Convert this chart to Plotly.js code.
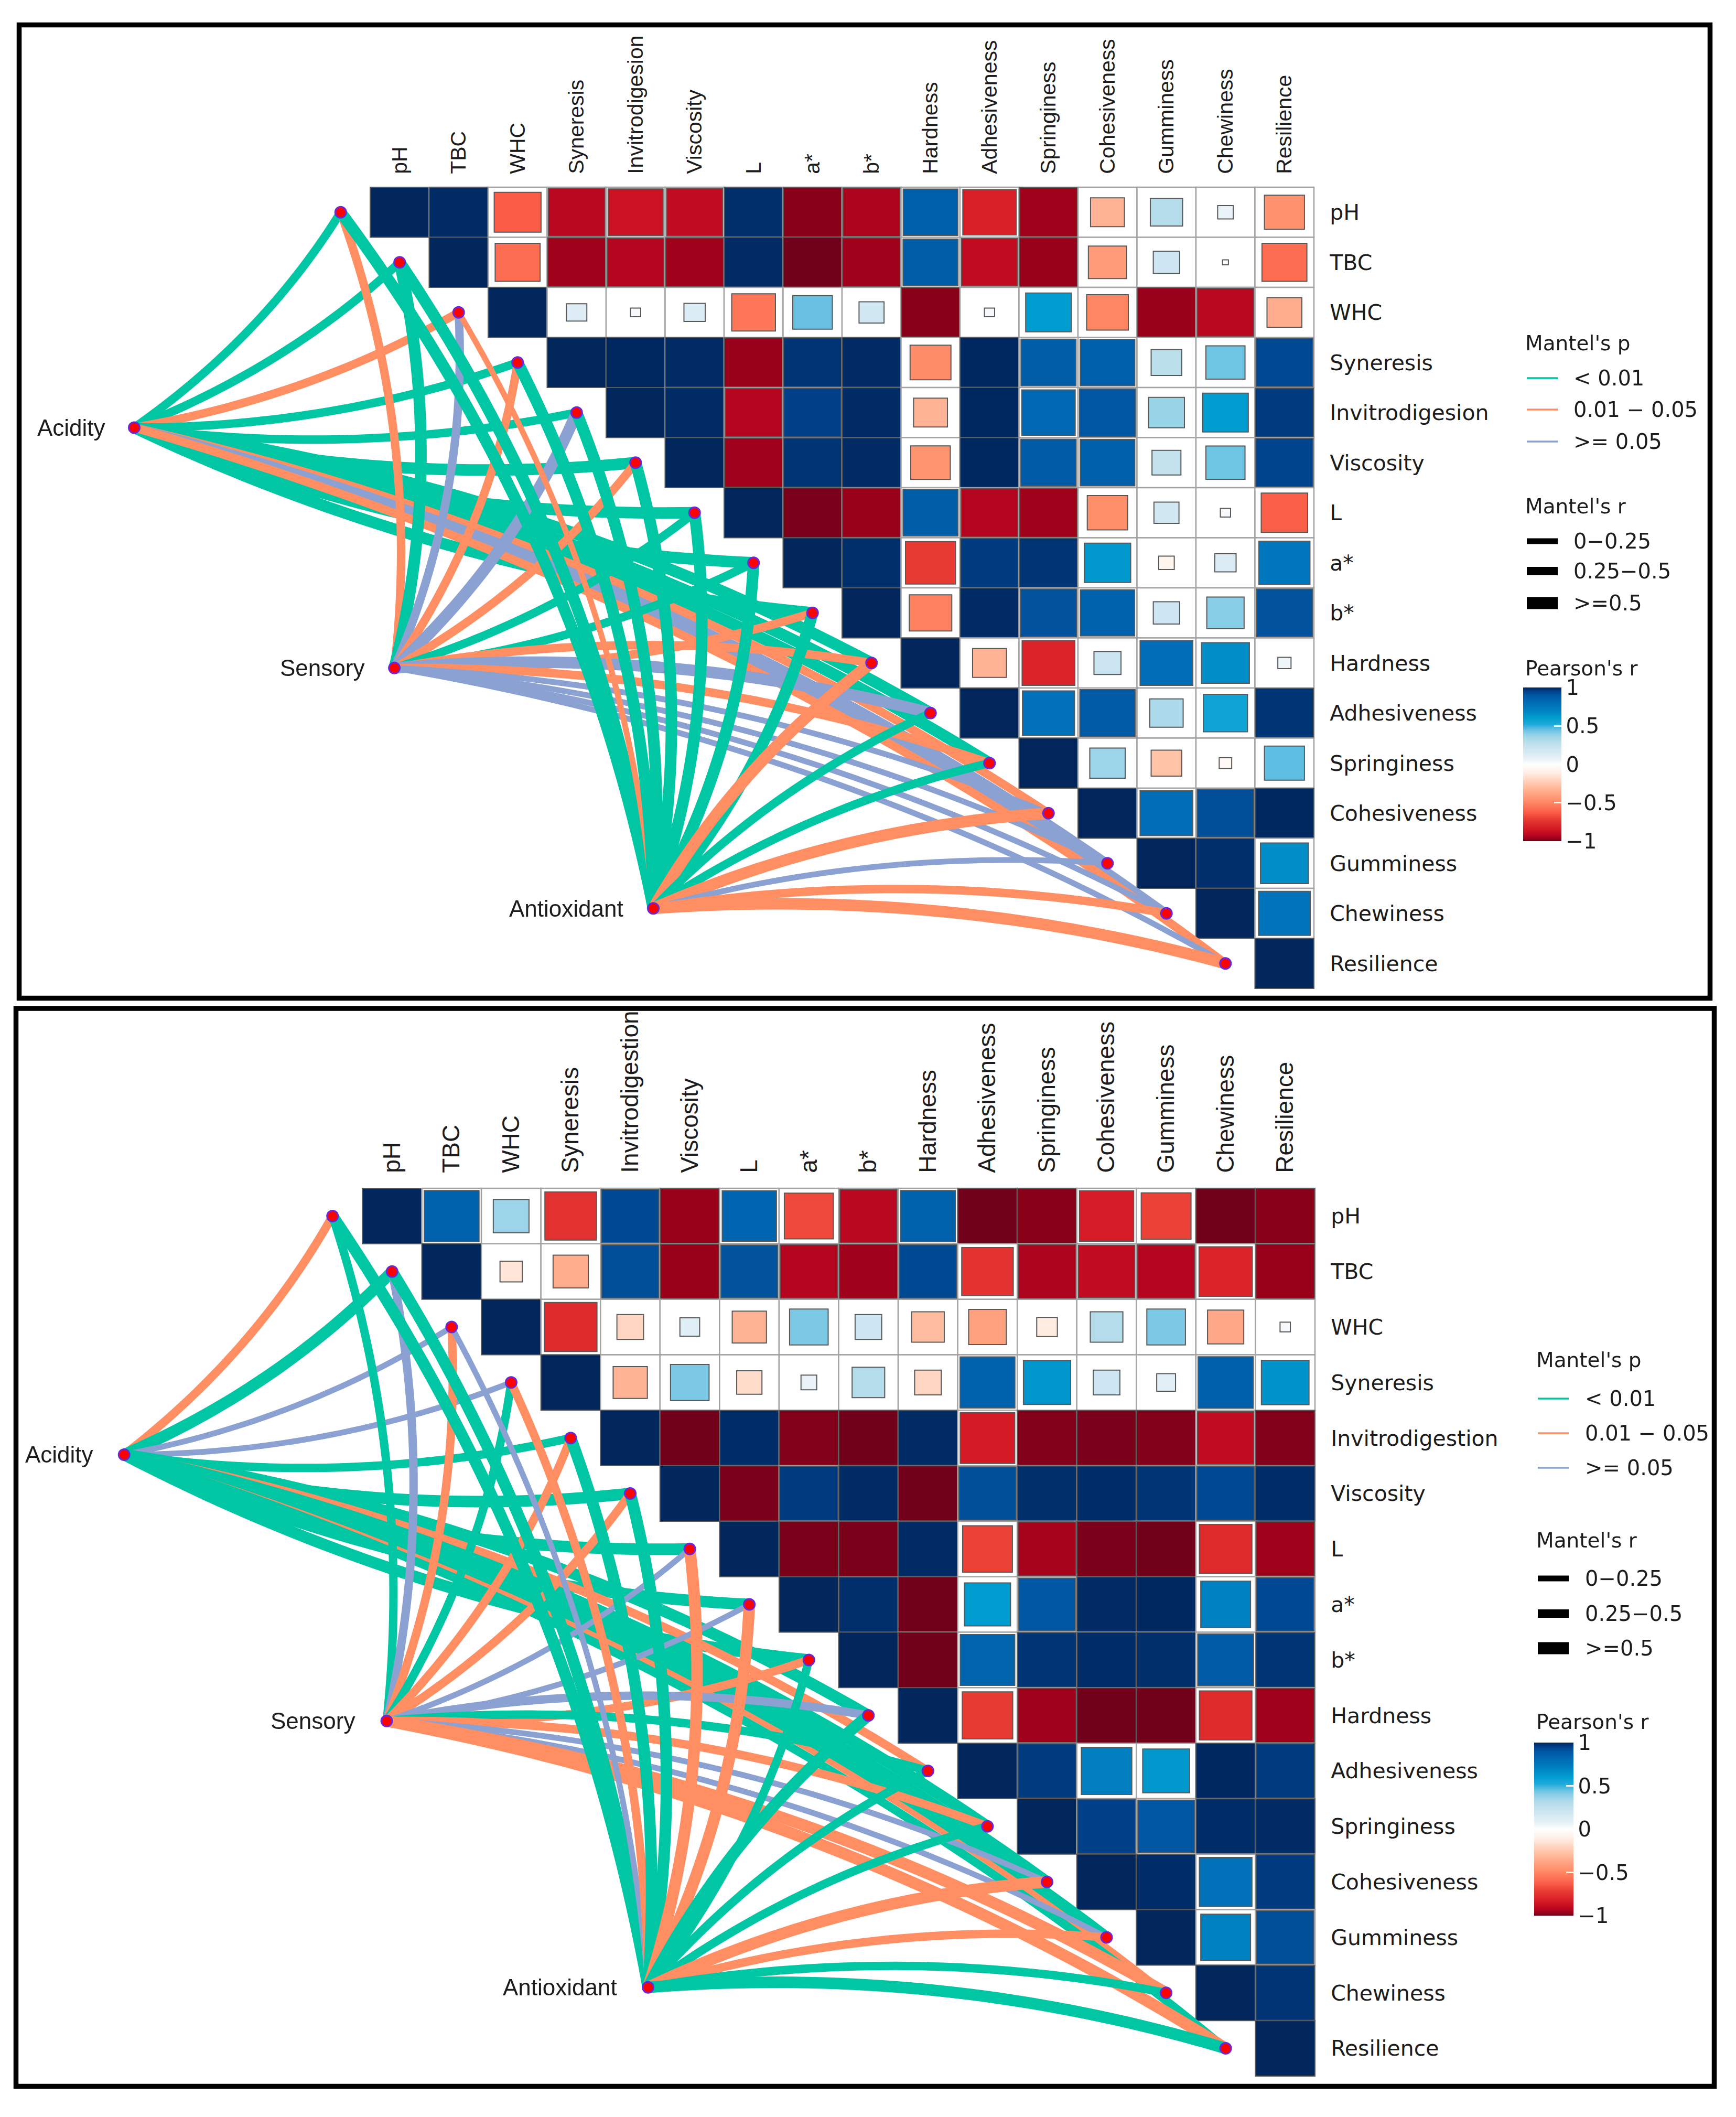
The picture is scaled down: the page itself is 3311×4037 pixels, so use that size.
<!DOCTYPE html>
<html><head><meta charset="utf-8">
<script src="https://cdn.plot.ly/plotly-3.0.1.min.js"></script>
<style>html,body{margin:0;padding:0;background:#fff}</style></head>
<body><div id="chart" style="width:3311px;height:4037px"></div>
<script>
// ---------- DATA ----------
const topLabels1 = ['pH','TBC','WHC','Syneresis','Invitrodigesion','Viscosity','L','a*','b*','Hardness','Adhesiveness','Springiness','Cohesiveness','Gumminess','Chewiness','Resilience'];
const topLabels2 = ['pH','TBC','WHC','Syneresis','Invitrodigestion','Viscosity','L','a*','b*','Hardness','Adhesiveness','Springiness','Cohesiveness','Gumminess','Chewiness','Resilience'];
const sources = ['Acidity','Sensory','Antioxidant'];
const sourceX = [-4.5,-0.09,4.3];
const sourceY = [4.3,9.1,13.9];

// Pearson's r, upper triangle, row by row (first entry of a row is the column right of the diagonal)
const pearson1 = [
 [.99,-.63,-.92,-.87,-.9,.98,-.98,-.94,.86,-.82,-.96,-.33,.3,.07,-.46],
 [-.58,-.96,-.93,-.96,.99,-.995,-.96,.87,-.9,-.97,-.42,.2,.01,-.58],
 [.12,.03,.13,-.55,.45,.18,-.98,.03,.6,-.5,-.97,-.92,-.35],
 [.995,.99,-.97,.97,.99,-.48,.995,.87,.86,.27,.44,.93],
 [.99,-.93,.95,.99,-.33,.995,.82,.9,.37,.6,.96],
 [-.96,.97,.99,-.45,.995,.88,.86,.24,.44,.94],
 [-.99,-.97,.87,-.93,-.96,-.47,.18,.03,-.62],
 [.98,-.72,.96,.97,.62,-.07,.13,.75],
 [-.52,.99,.91,.85,.2,.4,.91],
 [-.33,-.8,.21,.8,.66,.05],
 [.78,.88,.32,.56,.97],
 [.36,-.27,-.045,.46],
 [.8,.92,.995],
 [.98,.66],
 [.77]
];
const pearson2 = [
 [.85,.36,-.75,.93,-.97,.83,-.68,-.92,.85,-.995,-.98,-.83,-.7,-.995,-.98],
 [-.14,-.35,.92,-.97,.91,-.93,-.96,.93,-.75,-.94,-.9,-.93,-.8,-.97],
 [-.78,-.2,.11,-.33,.42,.2,-.3,-.4,-.12,.3,.42,-.37,.03],
 [-.33,.42,-.18,.07,.3,-.2,.85,.63,.2,.1,.86,.64],
 [-.995,.985,-.985,-.995,.99,-.84,-.985,-.99,-.985,-.9,-.985],
 [-.99,.96,.99,-.995,.92,.98,.985,.97,.93,.985],
 [-.99,-.99,.99,-.7,-.95,-.99,-.995,-.78,-.96],
 [.98,-.995,.6,.9,.99,.995,.7,.93],
 [-.995,.84,.97,.985,.98,.88,.97],
 [-.72,-.96,-.995,-.995,-.78,-.96],
 [.96,.72,.62,.995,.96],
 [.95,.9,.985,.99],
 [.985,.78,.96],
 [.7,.92],
 [.97]
];

// Mantel's p class (G <0.01, O 0.01-0.05, B >=0.05) and Mantel's r class (1,2,3) for source -> variable
const p1Acidity  = 'G G O G G G G G G G G G O B B O'.split(' ');
const r1Acidity  = [2,2,2,2,2,3,3,3,3,3,3,3,2,2,2,2];
const p1Sensory  = 'O G B O B O G G O O B O B B B B'.split(' ');
const r1Sensory  = [2,3,2,2,3,2,2,2,2,2,3,2,1,1,1,1];
const p1Antiox   = 'G G O G G G G G G O G G O B O O'.split(' ');
const r1Antiox   = [3,3,1,3,3,3,3,3,3,3,2,2,3,1,2,3];
const p2Acidity  = 'O G B B G G G G G G O G G G O G'.split(' ');
const r2Acidity  = [2,3,1,1,2,3,3,3,3,3,2,3,3,3,1,2];
const p2Sensory  = 'G B O G O O B B O B G O B B O O'.split(' ');
const r2Sensory  = [2,2,2,2,2,2,1,1,2,2,2,2,1,1,3,3];
const p2Antiox   = 'G G B O G G O O G G G G O O G G'.split(' ');
const r2Antiox   = [3,3,1,2,3,3,3,3,2,3,2,2,3,2,2,3];

const pLegend = ['< 0.01','0.01 \u2212 0.05','>= 0.05'];
const rLegend = ['0\u22120.25','0.25\u22120.5','>=0.5'];
const cbTicks = [1,.5,0,-.5,-1];
const cbText  = ['1','0.5','0','\u22120.5','\u22121'];

// ---------- STYLE ----------
const W=3311,H=4037;
const pColor={G:'#00c6a4',O:'#ff8f62',B:'#8ba1d2'};
const rWidth={1:11,2:16,3:22};
const keyWidth={1:11,2:16,3:23};
const colorscale=[[-1,'#67001a'],[-.99,'#7a0019'],[-.97,'#980019'],[-.93,'#b4051e'],[-.88,'#c80f22'],[-.82,'#d81f27'],[-.72,'#e63a32'],[-.63,'#fa5c47'],[-.5,'#ff8763'],[-.35,'#ffad8d'],[-.25,'#ffc9ae'],[-.1,'#fff0e8'],[0,'#ffffff'],[.07,'#e8f2f7'],[.2,'#cde6f1'],[.3,'#b5dcea'],[.38,'#94d3e8'],[.45,'#68c1e2'],[.52,'#20aadb'],[.6,'#009ed0'],[.7,'#0082c2'],[.8,'#006cb6'],[.9,'#0056a2'],[.95,'#004088'],[.98,'#002f6c'],[1,'#00265c']].map(s=>[(s[0]+1)/2,s[1]]);
const serif='"Liberation Sans", Arial, sans-serif', wide='"DejaVu Sans", sans-serif';

const panels=[
 {frame:[36.5,47.5,3261.5,1903.5],left:706,right:2506,top:357,bottom:1885,labels:topLabels1,matrix:pearson1,topFont:41,topGap:17,
  links:[[p1Acidity,r1Acidity],[p1Sensory,r1Sensory],[p1Antiox,r1Antiox]],
  srcLabelRight:[203,697,1191],
  legend:{x:2907,keyL:2912,keyR:2971,txt:2999,pT:654,pK:[721,781,842],rT:965,rK:[1032,1089,1150],cT:1274,cbL:2905,cbR:2978,cbT:1311,cbB:1604}},
 {frame:[30.5,1923,3269.5,3978.5],left:691,right:2508,top:2266,bottom:3959,labels:topLabels2,matrix:pearson2,topFont:46,topGap:20,
  links:[[p2Acidity,r2Acidity],[p2Sensory,r2Sensory],[p2Antiox,r2Antiox]],
  srcLabelRight:[180,679,1179],
  legend:{x:2928,keyL:2933,keyR:2992,txt:3021,pT:2593,pK:[2667,2733,2799],rT:2937,rK:[3010,3077,3143],cT:3283,cbL:2926,cbR:3001,cbT:3323,cbB:3653}}
];

const traces=[],shapes=[],annotations=[],layout={};
function ann(text,px,py,opts){annotations.push(Object.assign({text,x:px/W,y:1-py/H,xref:'paper',yref:'paper',showarrow:false,xanchor:'left',yanchor:'middle',font:{family:wide,size:39,color:'#1c1c1c'}},opts||{}));}

function colorAt(v){
  const t=(v+1)/2;
  for(let i=1;i<colorscale.length;i++){
    if(t<=colorscale[i][0]){
      const a=colorscale[i-1],b=colorscale[i],u=(t-a[0])/(b[0]-a[0]);
      const ca=hex(a[1]),cb=hex(b[1]);
      return 'rgb('+ca.map((c,k)=>Math.round(c+(cb[k]-c)*u)).join(',')+')';
    }
  }
  return colorscale[colorscale.length-1][1];
}
function hex(h){return [1,3,5].map(i=>parseInt(h.substr(i,2),16));}

panels.forEach((P,pi)=>{
  const cw=(P.right-P.left)/16, ch=(P.bottom-P.top)/16;
  const n=pi*2;
  const xa=n===0?'x':'x'+(n+1), ya=n===0?'y':'y'+(n+1);   // wide axes: links, nodes, cells
  const xb='x'+(n+2), yb='y'+(n+2);                         // heat axes: tick labels
  const axName=a=>a.replace('x','xaxis').replace('y','yaxis');
  const fL=P.frame[0],fT=P.frame[1],fR=P.frame[2],fB=P.frame[3];
  const hidden={visible:false,showgrid:false,zeroline:false,fixedrange:true};
  layout[axName(xa)]=Object.assign({domain:[fL/W,fR/W],range:[(fL-P.left)/cw-.5,(fR-P.left)/cw-.5],anchor:ya},hidden);
  layout[axName(ya)]=Object.assign({domain:[1-fB/H,1-fT/H],range:[(fB-P.top)/ch-.5,(fT-P.top)/ch-.5],anchor:xa},hidden);
  const idx=P.labels.map((_,i)=>i);
  layout[axName(xb)]={domain:[P.left/W,P.right/W],range:[-.5,15.5],anchor:'free',position:1-P.top/H,side:'top',
    tickmode:'array',tickvals:idx,ticktext:P.labels,tickangle:-90,showgrid:false,zeroline:false,showline:false,
    ticks:'outside',ticklen:P.topGap,tickcolor:'rgba(0,0,0,0)',tickfont:{family:serif,size:P.topFont,color:'#1c1c1c'},fixedrange:true};
  layout[axName(yb)]={domain:[1-P.bottom/H,1-P.top/H],range:[15.5,-.5],anchor:'free',position:P.right/W,side:'right',
    tickmode:'array',tickvals:idx,ticktext:P.labels,showgrid:false,zeroline:false,showline:false,
    ticks:'outside',ticklen:21,tickcolor:'rgba(0,0,0,0)',tickfont:{family:wide,size:41,color:'#1c1c1c'},fixedrange:true};

  // cells
  const cx=[],cy=[],cv=[];
  for(let i=0;i<16;i++){
    for(let j=i;j<16;j++){
      const r=j===i?1:P.matrix[i][j-i-1];
      cx.push(j);cy.push(i);cv.push(r);
      if(j>i) shapes.push({type:'rect',xref:xa,yref:ya,layer:'below',x0:j-.5,x1:j+.5,y0:i-.5,y1:i+.5,fillcolor:'#ffffff',line:{color:'#a3a3a3',width:2.5}});
      const f=Math.sqrt(Math.abs(r))/2;
      shapes.push({type:'rect',xref:xa,yref:ya,layer:'below',x0:j-f,x1:j+f,y0:i-f,y1:i+f,fillcolor:colorAt(r),line:{color:'#585858',width:2}});
    }
  }
  // links
  P.links.forEach((L,s)=>{
    L[0].forEach((pc,i)=>{
      const x0=sourceX[s],y0=sourceY[s],x1=i-1,y1=i;
      const sgn=i<=8?1:-1,k=.1;
      const dx=x1-x0,dy=y1-y0;
      const mx=(x0+x1)/2-sgn*k*dy,my=(y0+y1)/2+sgn*k*dx;
      const xs=[],ys=[];
      for(let t=0;t<=40;t++){const u=t/40;
        xs.push((1-u)*(1-u)*x0+2*u*(1-u)*mx+u*u*x1);
        ys.push((1-u)*(1-u)*y0+2*u*(1-u)*my+u*u*y1);}
      traces.push({type:'scatter',mode:'lines',xaxis:xa,yaxis:ya,x:xs,y:ys,hoverinfo:'skip',showlegend:false,
        line:{color:pColor[pc],width:rWidth[L[1][i]],shape:'linear',simplify:false}});
    });
  });
  // nodes
  traces.push({type:'scatter',mode:'markers',xaxis:xa,yaxis:ya,x:idx.map(i=>i-1).concat(sourceX),y:idx.concat(sourceY),hoverinfo:'skip',showlegend:false,
    marker:{size:21,color:'#ff0000',line:{color:'#6a28d8',width:3}}});
  // value trace on the heat axes, carrying the colour bar
  const G=P.legend;
  traces.push({type:'scatter',mode:'markers',xaxis:xb,yaxis:yb,x:cx,y:cy,hoverinfo:'skip',showlegend:false,opacity:0,
    marker:{size:2,color:cv,cmin:-1,cmax:1,colorscale:colorscale,showscale:true,
      colorbar:{x:G.cbL/W,xanchor:'left',y:1-G.cbT/H,yanchor:'top',len:G.cbB-G.cbT,lenmode:'pixels',thickness:G.cbR-G.cbL,thicknessmode:'pixels',
        xpad:0,ypad:0,outlinewidth:0,borderwidth:0,bgcolor:'rgba(0,0,0,0)',tickmode:'array',tickvals:cbTicks,ticktext:cbText,ticks:'inside',ticklen:14,tickwidth:3,tickcolor:'#ffffff',
        ticklabelposition:'outside',tickfont:{family:wide,size:40,color:'#1c1c1c'}}}});
  // frame
  shapes.push({type:'rect',xref:'paper',yref:'paper',x0:fL/W,x1:fR/W,y0:1-fB/H,y1:1-fT/H,line:{color:'#000',width:9.5},fillcolor:'rgba(0,0,0,0)'});
  // source labels
  sources.forEach((s,i)=>{
    const py=P.top+(sourceY[i]+.5)*ch;
    ann(s,P.srcLabelRight[i],py,{xanchor:'right',font:{family:serif,size:44,color:'#1c1c1c'}});
  });
  // legends
  ann("Mantel's p",G.x,G.pT); ann("Mantel's r",G.x,G.rT); ann("Pearson's r",G.x,G.cT);
  ['G','O','B'].forEach((c,i)=>{
    shapes.push({type:'line',xref:'paper',yref:'paper',x0:G.keyL/W,x1:G.keyR/W,y0:1-G.pK[i]/H,y1:1-G.pK[i]/H,line:{color:pColor[c],width:3.5}});
    ann(pLegend[i],G.txt,G.pK[i],{font:{family:wide,size:40,color:'#1c1c1c'}});
  });
  [1,2,3].forEach((c,i)=>{
    shapes.push({type:'line',xref:'paper',yref:'paper',x0:G.keyL/W,x1:G.keyR/W,y0:1-G.rK[i]/H,y1:1-G.rK[i]/H,line:{color:'#000',width:keyWidth[c]}});
    ann(rLegend[i],G.txt,G.rK[i],{font:{family:wide,size:40,color:'#1c1c1c'}});
  });
});

Object.assign(layout,{width:W,height:H,margin:{l:0,r:0,t:0,b:0,pad:0},paper_bgcolor:'#ffffff',plot_bgcolor:'rgba(0,0,0,0)',
  showlegend:false,shapes,annotations,hovermode:false,font:{family:serif}});
Plotly.newPlot('chart',traces,layout,{displayModeBar:false,staticPlot:true});
</script></body></html>
